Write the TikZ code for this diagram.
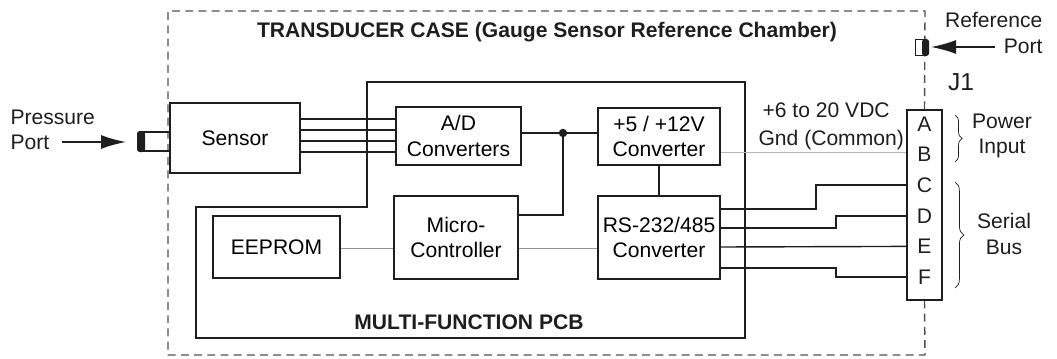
\documentclass[tikz,border=0pt]{standalone}
\usepackage{fontspec}
\setmainfont{Liberation Sans}
\usetikzlibrary{arrows.meta,calc,positioning,decorations.pathreplacing}
\definecolor{InkBlack}{RGB}{30,30,30}
\definecolor{TraceGray}{RGB}{150,150,150}
\definecolor{CaseGray}{RGB}{80,80,80}
\newcommand{\portarrow}[2]{%
  \draw[-{Latex[length=5mm,width=2.8mm]},line width=0.9pt,InkBlack] (#1)--(#2);}

\begin{document}
\begin{tikzpicture}[x=0.02cm,y=-0.02cm,line width=0.8pt,
    block/.style={draw=InkBlack,fill=white,align=center,inner sep=1pt,
      font=\fontsize{12}{14.5}\selectfont},
    label/.style={text=InkBlack,font=\fontsize{12}{14.5}\selectfont},
    heading/.style={text=InkBlack,font=\fontsize{12}{13.5}\selectfont\bfseries}]
  \useasboundingbox (0,0) rectangle (1057,358);
  % transducer case
  \node[heading] (casetitle) at (547,32) {TRANSDUCER CASE (Gauge Sensor Reference Chamber)};
  % multi-function pcb outline
  \draw[InkBlack] (367,82) -- (745,82) -- (745,338) -- (196,338) -- (196,207) -- (367,207) -- cycle;
  \node[heading] (pcbtitle) at (469,322) {MULTI-FUNCTION PCB};
  % blocks
  \node[block,line width=1.3pt,minimum width=2.6cm,minimum height=1.4cm] (sensor) at (235,138) {Sensor};
  \node[block,minimum width=2.5cm,minimum height=1.16cm] (adc) at (458.5,136) {A/D\\Converters};
  \node[block,minimum width=2.44cm,minimum height=1.14cm] (pwr) at (659,136.5) {+5 / +12V\\Converter};
  \node[block,minimum width=2.48cm,minimum height=1.66cm] (mcu) at (456,237.5) {Micro-\\Controller};
  \node[block,minimum width=2.44cm,minimum height=1.66cm] (rs) at (659,237.5) {RS-232/485\\Converter};
  \node[block,minimum width=2.54cm,minimum height=1.24cm] (eeprom) at (276.5,247) {EEPROM};
  \node[draw=InkBlack,minimum width=0.7cm,minimum height=3.8cm] (j1) at (924.5,205) {};
  \foreach \p [count=\i from 0] in {A,B,C,D,E,F}
    \node[label] (pin\p) at (924.5,{124+30.6*\i}) {\p};
  % case outline, broken by the connector
  \draw[CaseGray,dash pattern=on 4.5pt off 3pt] (j1.north) -- (925,11) -- (168,11) -- (168,355) -- (925,355) -- (j1.south);
  % sensor wires
  \foreach \yy in {119,130,141,152}
    \draw[InkBlack] (sensor.east |- 0,\yy) -- (adc.west |- 0,\yy);
  \coordinate (junction) at (563,133);
  \draw[InkBlack] (adc.east |- 0,133) -- (pwr.west |- 0,133);
  \fill[InkBlack] (junction) circle (2.4pt);
  \draw[InkBlack] (junction) |- (mcu.east |- 0,215);
  \draw[InkBlack] (pwr.south) -- (rs.north);
  \draw[TraceGray,thin] (eeprom.east |- 0,248) -- (mcu.west |- 0,248);
  \draw[TraceGray,thin] (mcu.east |- 0,248) -- (rs.west |- 0,248);
  \draw[TraceGray!70,thin] (pwr.east |- 0,152) -- (j1.west |- 0,152);
  % serial bus
  \draw[InkBlack] (rs.east |- 0,209) -- (816,209) |- (j1.west |- pinC);
  \draw[InkBlack] (rs.east |- 0,228) -- (836,228) |- (j1.west |- pinD);
  \draw[InkBlack] (rs.east |- 0,247) -- (j1.west |- pinE);
  \draw[InkBlack] (rs.east |- 0,268) -- (836,268) |- (j1.west |- pinF);
  \node[label,anchor=west] (vdc) at (756,110) {+6 to 20 VDC};
  \node[label,anchor=west] (gnd) at (752,140) {Gnd (Common)};
  \node[text=InkBlack,font=\fontsize{14}{16}\selectfont] (j1name) at (961,82) {J1};
  % braces
  \draw[InkBlack,thin,decorate,decoration={brace,amplitude=4pt}] (955,115) -- (955,162) coordinate[midway] (powerbrace);
  \draw[InkBlack,thin,decorate,decoration={brace,amplitude=5pt}] (955,182) -- (955,288) coordinate[midway] (serialbrace);
  \node[label,align=center] (powerlbl) at (1002,136) {Power\\Input};
  \node[label,align=center] (seriallbl) at (1004,234) {Serial\\Bus};
  % pressure port
  \draw[InkBlack] (143,132) -- (169,132) (143,151) -- (169,151);
  \fill[InkBlack,rounded corners=1.5pt] (137,131) rectangle (145,152);
  \node[label,align=left,anchor=west] (plabel) at (4,130) {Pressure\\Port};
  \coordinate (ptail) at (62,142);
  \coordinate (ptip) at (126,142);
  \portarrow{ptail}{ptip}
  % reference port
  \draw[InkBlack,thin] (925,39) -- (915,39) -- (915,55) -- (925,55);
  \fill[InkBlack,rounded corners=1.5pt] (922,39) rectangle (929,56);
  \node[label,align=right,anchor=east] (rlabel) at (1049,33) {Reference\\Port};
  \coordinate (rtail) at (995,47);
  \coordinate (rtip) at (931,47);
  \portarrow{rtail}{rtip}
\end{tikzpicture}
\end{document}
